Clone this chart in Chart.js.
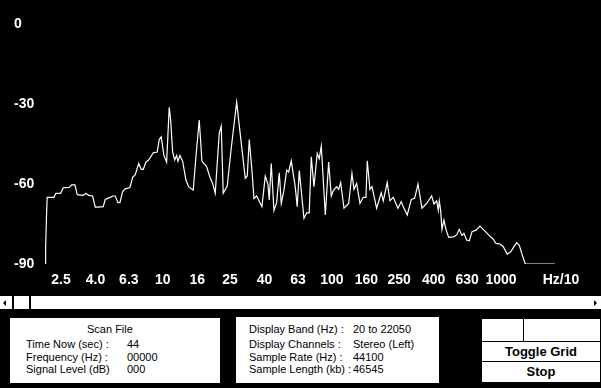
<!DOCTYPE html>
<html>
<head>
<meta charset="utf-8">
<script src="https://cdn.jsdelivr.net/npm/chart.js@4.4.1/dist/chart.umd.min.js"></script>
<style>
  html, body { margin: 0; padding: 0; background: #000; }
  #wrap { position: relative; width: 601px; height: 388px; overflow: hidden; background: #000;
          font-family: "Liberation Sans", Arial, sans-serif; }
  #chartBox { position: absolute; left: 0; top: 0; width: 601px; height: 296px; }
  .scroll { position: absolute; left: 0; top: 296px; width: 601px; height: 13px; background: #fff; }
  .sep { position: absolute; top: 0; width: 2px; height: 13px; background: #000; }
  .arrL { position: absolute; left: 3px; top: 4px; width: 0; height: 0;
          border-top: 3px solid transparent; border-bottom: 3px solid transparent; border-right: 3px solid #000; }
  .arrR { position: absolute; left: 594px; top: 4px; width: 0; height: 0;
          border-top: 3px solid transparent; border-bottom: 3px solid transparent; border-left: 3px solid #000; }
  .panel { position: absolute; background: #fff; color: #000; font-size: 11px; }
  .panel div { position: absolute; line-height: 12px; white-space: nowrap; }
  .btn { position: absolute; left: 0; width: 118px; text-align: center; font-weight: bold; font-size: 13px; }
  .hl { position: absolute; left: 0; width: 118px; height: 1px; background: #000; }
</style>
</head>
<body>
<div id="wrap">
  <div id="chartBox"><canvas id="spectrum" width="601" height="296"></canvas></div>

  <div class="scroll">
    <div class="arrL"></div>
    <div class="sep" style="left:12px"></div>
    <div class="sep" style="left:29px"></div>
    <div class="arrR"></div>
  </div>

  <div class="panel" style="left:10px; top:318px; width:210px; height:65px;">
    <div style="left:77px; top:5px;">Scan File</div>
    <div style="left:16px; top:20px;">Time Now (sec) :</div><div style="left:117px; top:20px;">44</div>
    <div style="left:16px; top:33px;">Frequency (Hz) :</div><div style="left:117px; top:33px;">00000</div>
    <div style="left:16px; top:45px;">Signal Level (dB)</div><div style="left:117px; top:45px;">000</div>
  </div>

  <div class="panel" style="left:236px; top:317px; width:203px; height:66px;">
    <div style="left:13px; top:6px;">Display Band (Hz) :</div><div style="left:117px; top:6px;">20 to 22050</div>
    <div style="left:13px; top:21px;">Display Channels :</div><div style="left:117px; top:21px;">Stereo (Left)</div>
    <div style="left:13px; top:34px;">Sample Rate (Hz) :</div><div style="left:117px; top:34px;">44100</div>
    <div style="left:13px; top:46px;">Sample Length (kb) :</div><div style="left:117px; top:46px;">46545</div>
  </div>

  <div class="panel" style="left:482px; top:319px; width:118px; height:63px;">
    <div style="left:41px; top:0; width:1px; height:22px; background:#000;"></div>
    <div class="hl" style="top:22px;"></div>
    <div class="btn" style="top:23px; height:19px; line-height:19px;">Toggle Grid</div>
    <div class="hl" style="top:42px;"></div>
    <div class="btn" style="top:43px; height:20px; line-height:20px;">Stop</div>
  </div>
</div>

<script>
// frequency of each trace point, in Hz/10 (same unit as the axis)
const freqs = [
  2.03, 2.03, 2.056, 2.073, 2.272, 2.334, 2.489, 2.58, 2.799, 2.892,
  3.025, 3.121, 3.386, 3.513, 3.645, 3.849, 3.988, 4.137, 4.447, 4.569,
  4.872, 5.095, 5.235, 5.431, 5.581, 5.79, 5.998, 6.397, 6.637, 6.876,
  7.202, 7.461, 7.667, 7.954, 8.251, 8.785, 9.276, 9.532, 9.795, 10.16,
  10.54, 10.92, 11.13, 11.44, 11.76, 12.08, 12.3, 12.63, 13.11, 13.71,
  14.22, 15.14, 15.71, 16.43, 17.05, 18.17, 19.01, 19.72, 20.43, 21.57,
  22.17, 22.78, 24.05, 25.41, 27.35, 28.34, 30.75, 31.59, 32.47, 33.67,
  34.61, 35.91, 38.59, 40.37, 41.88, 42.63, 43.81, 45.45, 47.14, 48.85,
  50.19, 52.07, 54.02, 55.51, 57.51, 60.71, 62.38, 64.15, 68.39, 70.95,
  73.48, 75.52, 78.34, 81.95, 84.22, 86.56, 88.96, 91.43, 95.71, 99.19,
  101.9, 106.7, 109.7, 112.7, 117.9, 125.7, 131.4, 135.1, 140.1, 146.6,
  153.3, 159.0, 161.9, 167.9, 172.6, 184.0, 195.8, 201.3, 212.5, 220.5,
  230.6, 245.8, 257.2, 264.3, 279.1, 294.8, 308.7, 322.9, 340.9, 363.5,
  389.1, 401.5, 416.6, 425.7, 431.6, 439.9, 447.7, 460.0, 472.7, 490.5,
  522.1, 546.8, 566.4, 587.7, 604.0, 626.6, 649.4, 673.7, 711.5, 751.2,
  785.5, 822.9, 868.9, 900.1, 933.9, 986.2, 1032, 1089, 1141, 1193,
  1238, 1283, 1331, 1392, 2085
];

// signal level in dB
const levels = [
  -90, -83.5, -71, -65, -65, -63.5, -63.5, -61.4, -61.3, -60.3,
  -60.3, -64, -64.3, -63.5, -64.3, -64.5, -68.7, -68.7, -68.5, -65.8,
  -65, -64.5, -64.5, -67, -67, -62.8, -61.8, -61.3, -57.5, -56.5,
  -52.3, -54.5, -54.5, -51.8, -51, -48.3, -48, -43.3, -42.3, -49.3,
  -51.8, -31.2, -36, -48, -51, -49.3, -51.5, -49.3, -51.5, -58.5,
  -61, -62.3, -49.8, -36, -51.5, -53.5, -57.5, -59.8, -63.5, -41,
  -38.3, -63.5, -60.8, -46.5, -29.3, -38, -57.9, -57, -43.3, -54.8,
  -65.4, -64.5, -68.5, -57, -60, -66, -52.3, -70, -67, -55.8,
  -67.3, -62.3, -54.8, -55.5, -51.3, -61, -68.5, -55, -72.9, -70.8,
  -70.8, -49.8, -61, -48.5, -50.5, -45.8, -58.5, -71.6, -51.8, -64.5,
  -62.5, -61, -62, -59.5, -69.1, -67.3, -56, -62, -59.8, -67.3,
  -65, -65, -51.3, -62, -61, -69.1, -63.3, -66.3, -59.5, -66.3,
  -65, -69.1, -66.6, -68.5, -71.6, -65.8, -65.4, -60, -69.1, -67.3,
  -64.5, -67.5, -66.3, -69.8, -66.3, -70, -77, -73.5, -77, -80,
  -79.8, -79.1, -77, -79.3, -78.5, -81, -81.3, -77.9, -77.3, -75.8,
  -77, -78.3, -79.8, -80.7, -82.3, -82.5, -83.5, -86.3, -85.4, -83.5,
  -82, -83, -86.3, -90, -90
];

const freqTicks = [2.5, 4, 6.3, 10, 16, 25, 40, 63, 100, 160, 250, 400, 630, 1000, 2263];
const freqLabels = ['2.5', '4.0', '6.3', '10', '16', '25', '40', '63', '100', '160', '250', '400', '630', '1000', 'Hz/10'];
const levelTicks = [-90, -60, -30, 0];

const tickFont = { family: '"Liberation Sans", Arial, sans-serif', size: 14, weight: 'bold' };

const points = freqs.map((f, i) => ({ x: f, y: levels[i] }));

new Chart(document.getElementById('spectrum'), {
    type: 'line',
    data: {
        datasets: [{
            data: points,
            borderColor: '#ffffff',
            borderWidth: 1.2,
            pointRadius: 0,
            tension: 0,
            fill: false
        }]
    },
    options: {
        responsive: false,
        animation: false,
        layout: { padding: { left: 14, top: 24, right: 11, bottom: 0 } },
        plugins: {
            legend: { display: false },
            tooltip: { enabled: false }
        },
        scales: {
            x: {
                type: 'logarithmic',
                min: 1.78,
                max: 3360,
                grid: { display: false, drawTicks: false },
                border: { display: false },
                afterBuildTicks: s => { s.ticks = freqTicks.map(v => ({ value: v })); },
                afterFit: s => { s.height = 32; },
                ticks: {
                    autoSkip: false,
                    maxRotation: 0,
                    padding: 8,
                    color: '#ffffff',
                    font: tickFont,
                    callback: (v, i) => freqLabels[i]
                }
            },
            y: {
                min: -90,
                max: 0,
                grid: { display: false, drawTicks: false },
                border: { display: false },
                afterBuildTicks: s => { s.ticks = levelTicks.map(v => ({ value: v })); },
                afterFit: s => { s.width = 22; },
                ticks: {
                    crossAlign: 'far',
                    padding: 0,
                    color: '#ffffff',
                    font: tickFont,
                    callback: v => String(v)
                }
            }
        }
    }
});
</script>
</body>
</html>
